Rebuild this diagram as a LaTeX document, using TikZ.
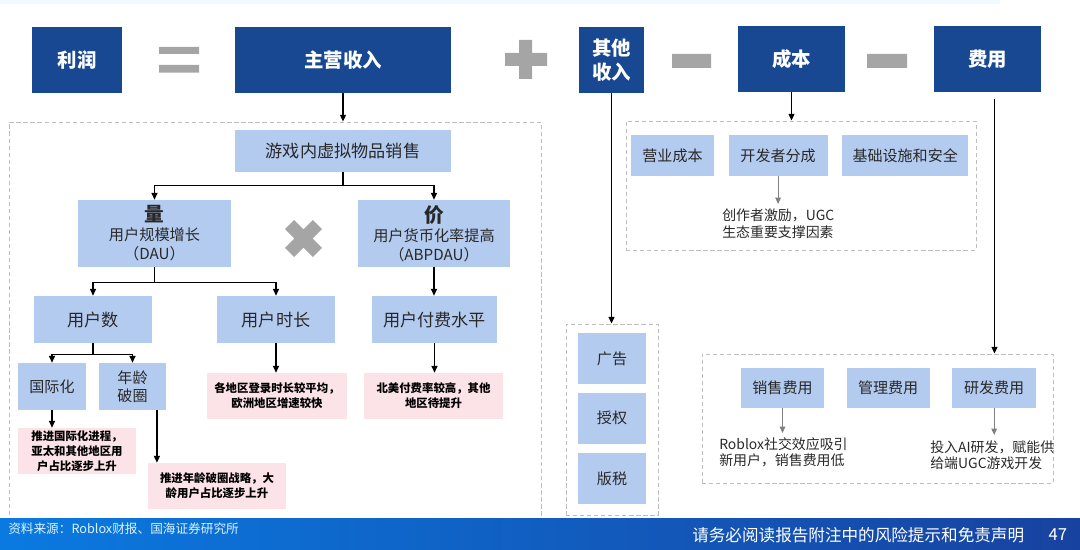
\documentclass[tikz,border=0pt]{standalone}
\usepackage{fontspec}
\setmainfont{Noto Sans CJK SC}
\usepackage{tikz}
\usetikzlibrary{arrows.meta,positioning,fit,calc}
\definecolor{navy}{RGB}{24,72,145}
\definecolor{lightblue}{RGB}{180,203,240}
\definecolor{softpink}{RGB}{251,227,231}
\definecolor{markgray}{RGB}{165,165,165}
\definecolor{dashgray}{RGB}{190,190,190}
\definecolor{textgray}{RGB}{40,40,40}
\definecolor{footleft}{RGB}{10,122,225}
\definecolor{footright}{RGB}{24,66,160}
\tikzset{
  headbox/.style={rectangle, fill=navy, text=white, minimum height=1.65cm, inner sep=0pt,
                  align=center, font=\fontsize{13.8}{17}\selectfont\bfseries},
  itembox/.style={rectangle, fill=lightblue, text=textgray, inner sep=0pt, align=center,
                  font=\fontsize{12.2}{14}\selectfont},
  smallbox/.style={itembox, font=\fontsize{10.7}{13}\selectfont},
  pinkbox/.style={rectangle, fill=softpink, text=black, inner sep=0pt, minimum height=1.15cm,
                  align=center, font=\fontsize{8.1}{10.6}\selectfont\bfseries},
  notetext/.style={align=left, inner sep=0pt, text=textgray, font=\fontsize{9.9}{11.8}\selectfont},
  groupbox/.style={draw=dashgray, dash pattern=on 3pt off 2pt, line width=0.6pt, inner sep=0pt},
  arrow/.style={-{Triangle[length=1.7mm,width=1.5mm]}, line width=0.9pt, black},
  arrowgray/.style={-{Triangle[length=1.6mm,width=1.4mm]}, line width=0.8pt, gray},
  opmark/.style={fill=markgray},
}
\begin{document}
\begin{tikzpicture}[x=0.025cm, y=-0.025cm]
\useasboundingbox (0,0) rectangle (1080,550);
\fill[cyan!6] (0,0) rectangle (1000,4);

% equation row
\node[headbox, minimum width=2.25cm] (lirun) at (77,60) {利润};
\node[headbox, minimum width=5.4cm] (zhuying) at (343,60) {主营收入};
\node[headbox, minimum width=1.625cm] (qita) at (611.5,60) {其他\\收入};
\node[headbox, minimum width=2.675cm] (chengben) at (791.5,59) {成本};
\node[headbox, minimum width=2.675cm] (feiyong) at (987.5,59) {费用};

% = + - -
\fill[opmark] (159,47) rectangle (199,54) (159,65) rectangle (199,72.7);
\fill[opmark] (505,53) rectangle (547,66) (519,40) rectangle (532,79);
\fill[opmark] (672,54) rectangle (711,68) (867,54) rectangle (907,68);

% main revenue
\node[groupbox, fit={(9,122) (541,518)}] (maingrp) {};
\node[itembox, minimum width=5.4cm, minimum height=1.05cm] (xuni) at (343,151) {游戏内虚拟物品销售};
\node[itembox, minimum width=3.825cm, minimum height=1.675cm, font=\fontsize{10.8}{13.5}\selectfont]
  (liang) at (154.5,233.5) {{\fontsize{14}{16}\selectfont\bfseries 量}\\用户规模增长\\（DAU）};
\node[itembox, minimum width=3.8cm, minimum height=1.675cm, font=\fontsize{10.8}{13.5}\selectfont]
  (jia) at (434,233.5) {{\fontsize{14}{16}\selectfont\bfseries 价}\\用户货币化率提高\\（ABPDAU）};
\draw[markgray, line width=9.2pt] (289.6,224.6) -- (317.4,252.4) (317.4,224.6) -- (289.6,252.4);

\node[itembox, minimum width=2.95cm, minimum height=1.175cm] (yhs) at (93,319.5) {用户数};
\node[itembox, minimum width=2.95cm, minimum height=1.175cm] (yhsc) at (276,319.5) {用户时长};
\node[itembox, minimum width=3.125cm, minimum height=1.175cm] (ffsp) at (434.5,319.5) {用户付费水平};
\node[smallbox, minimum width=1.7cm, minimum height=1.175cm] (gjh) at (52,386.5) {国际化};
\node[smallbox, minimum width=1.675cm, minimum height=1.175cm] (nlpq) at (132.5,386.5) {年龄\\破圈};

\node[pinkbox, minimum width=2.95cm] (gjhnote) at (77,451) {推进国际化进程，\\亚太和其他地区用\\户占比逐步上升};
\node[pinkbox, minimum width=3.45cm] (nlnote) at (217,486) {推进年龄破圈战略，大\\龄用户占比逐步上升};
\node[pinkbox, minimum width=3.5cm] (scnote) at (277,396) {各地区登录时长较平均，\\欧洲地区增速较快};
\node[pinkbox, minimum width=3.475cm] (ffnote) at (433.5,396) {北美付费率较高，其他\\地区待提升};

\draw[arrow] (zhuying.south) -- (zhuying.south |- maingrp.north);
\draw[arrow] (xuni.south) -- ++(0,13) -| (liang.north);
\draw[arrow] (xuni.south) -- ++(0,13) -| (jia.north);
\draw[arrow] (liang.south) -- ++(0,15) -| (yhs.north);
\draw[arrow] (liang.south) -- ++(0,15) -| (yhsc.north);
\draw[arrow] (jia.south) -- (jia.south |- ffsp.north);
\draw[arrow] (yhs.south) -- ++(0,11) -| (gjh.north);
\draw[arrow] (yhs.south) -- ++(0,11) -| (nlpq.north);
\draw[arrow] (gjh.south) -- (gjh.south |- gjhnote.north);
\draw[arrow] ([xshift=0.61cm]nlpq.south) -- ([xshift=0.61cm]nlpq.south |- nlnote.north);
\draw[arrow] (yhsc.south) -- (yhsc.south |- scnote.north);
\draw[arrow] (ffsp.south) -- (ffsp.south |- ffnote.north);

% other revenue
\node[groupbox, fit={(566,324) (658,515)}] (qitagrp) {};
\node[smallbox, minimum width=1.7cm, minimum height=1.275cm] (guanggao) at (612,358.5) {广告};
\node[smallbox, minimum width=1.7cm, minimum height=1.275cm, below=0.2cm of guanggao] (shouquan) {授权};
\node[smallbox, minimum width=1.7cm, minimum height=1.275cm, below=0.225cm of shouquan] (banshui) {版税};
\draw[arrow] (qita.south) -- (qita.south |- qitagrp.north);

% cost
\node[groupbox, fit={(626,121) (976,250)}] (cbgrp) {};
\node[smallbox, minimum width=2.075cm, minimum height=1.025cm] (yycb) at (672.5,155.5) {营业成本};
\node[smallbox, minimum width=2.475cm, minimum height=1.025cm, right=0.35cm of yycb] (kfz) {开发者分成};
\node[smallbox, minimum width=3.15cm, minimum height=1.025cm, right=0.35cm of kfz] (jcss) {基础设施和安全};
\node[notetext, anchor=north west] (kfznote) at (722,209) {创作者激励，UGC\\生态重要支撑因素};
\draw[arrow] (chengben.south) -- (chengben.south |- cbgrp.north);
\draw[arrowgray] (kfz.south) -- ($(kfz.south |- kfznote.north)+(0,-5)$);

% expense
\node[groupbox, fit={(702,354) (1053,483)}] (fygrp) {};
\node[smallbox, minimum width=2.075cm, minimum height=1cm] (xsfy) at (782.5,388) {销售费用};
\node[smallbox, minimum width=2.075cm, minimum height=1cm, right=0.55cm of xsfy] (glfy) {管理费用};
\node[smallbox, minimum width=2.1cm, minimum height=1cm, right=0.55cm of glfy] (yffy) {研发费用};
\node[notetext, anchor=north west] (xsnote) at (719,437) {Roblox社交效应吸引\\新用户，销售费用低};
\node[notetext, anchor=north west] (yfnote) at (930,440) {投入AI研发，赋能供\\给端UGC游戏开发};
\coordinate (fystart) at ([xshift=0.175cm,yshift=-0.175cm]feiyong.south);
\draw[arrow] (fystart) -- (fystart |- fygrp.north);
\draw[arrowgray] (xsfy.south) -- ($(xsfy.south |- xsnote.north)+(0,-4)$);
\draw[arrowgray] (yffy.south) -- ($(yffy.south |- yfnote.north)+(0,-5)$);

% footer
\shade[left color=footleft, right color=footright] (0,518) rectangle (1080,550);
\node[anchor=west, inner sep=0pt, text=white!85!cyan, font=\fontsize{9}{10}\selectfont] (source) at (8,529) {资料来源：Roblox财报、国海证券研究所};
\node[anchor=west, inner sep=0pt, text=white, font=\fontsize{11.8}{13}\selectfont] (disclaimer) at (692,535) {请务必阅读报告附注中的风险提示和免责声明};
\node[anchor=west, inner sep=0pt, text=white, font=\fontsize{11.8}{13}\selectfont, right=0.6cm of disclaimer] (pagenum) {47};
\end{tikzpicture}
\end{document}
